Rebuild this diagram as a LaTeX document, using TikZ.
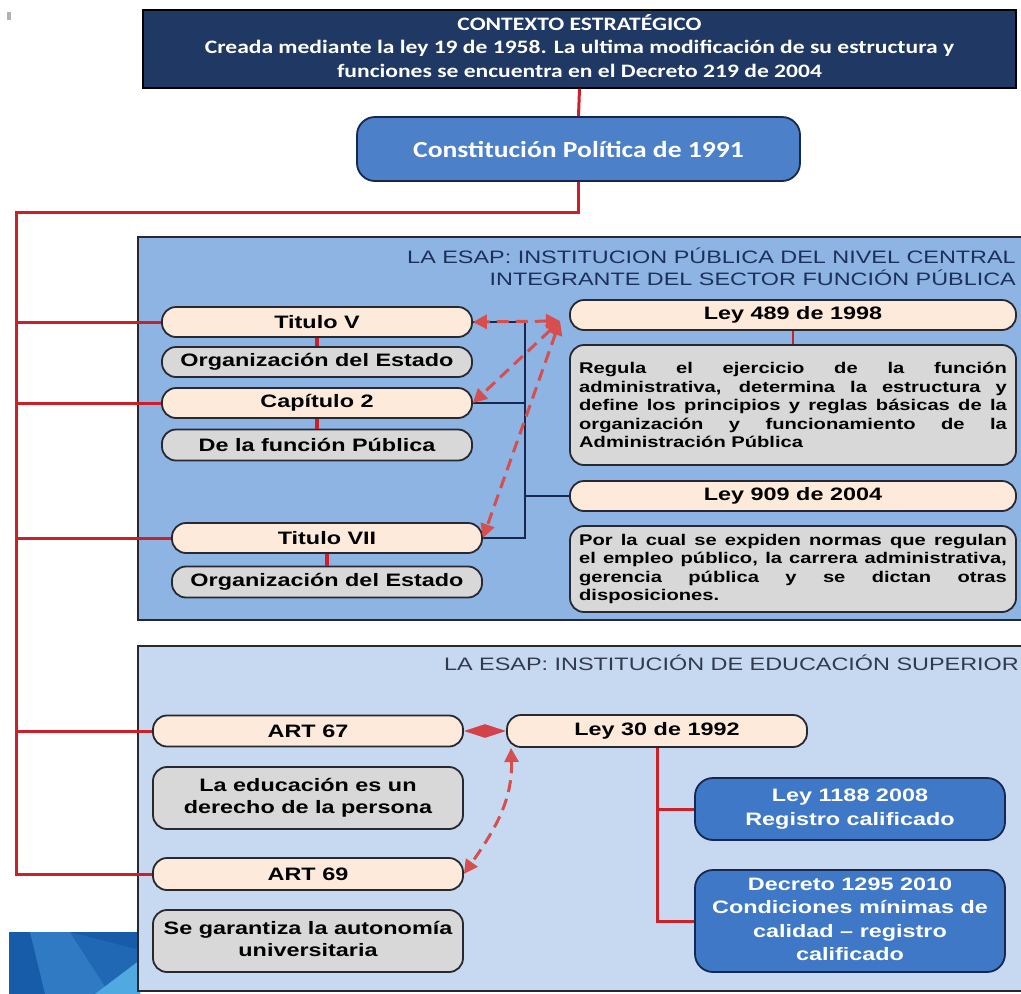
\documentclass[tikz,border=0pt]{standalone}
\usepackage{fontspec}
\usepackage{graphicx}
\setmainfont{Liberation Sans}
\newfontfamily\calfont{Carlito}
\usetikzlibrary{arrows.meta}
\definecolor{topnavy}{RGB}{31,56,100}
\definecolor{constblue}{RGB}{76,128,200}
\definecolor{panelA}{RGB}{142,180,227}
\definecolor{panelB}{RGB}{198,217,241}
\definecolor{creambg}{RGB}{253,234,218}
\definecolor{graybg}{RGB}{216,216,216}
\definecolor{bluebox}{RGB}{62,120,198}
\definecolor{boxline}{RGB}{40,40,48}
\definecolor{navyline}{RGB}{22,40,78}
\definecolor{redline}{RGB}{204,32,40}
\definecolor{reddash}{RGB}{214,78,78}
\definecolor{titlecol}{RGB}{28,48,92}
\definecolor{titlecolB}{RGB}{50,58,78}
\definecolor{decoA}{RGB}{22,92,168}
\definecolor{decoB}{RGB}{48,122,196}
\definecolor{decoC}{RGB}{32,104,180}
\definecolor{decoD}{RGB}{80,170,225}
\newcommand\hs[1]{\scalebox{1.3}[1]{#1}}
\newcommand\paratxt{\fontsize{15.5}{18.6}\selectfont\bfseries\hyphenpenalty=10000 }
\tikzset{
  capsule/.style={draw=boxline, line width=1.8pt, rounded corners=14pt, inner sep=0pt,
    font=\fontsize{18}{22}\selectfont\bfseries, text=black},
  creambox/.style={capsule, fill=creambg, minimum height=30pt},
  graybox/.style={capsule, fill=graybg, minimum height=30pt},
  parabox/.style={draw=boxline, line width=1.8pt, rounded corners=14pt, fill=graybg, inner sep=0pt},
  bluebx/.style={draw=navyline, line width=1.8pt, rounded corners=18pt, fill=bluebox, inner sep=0pt,
    text=white, font=\fontsize{18}{23.5}\selectfont\bfseries},
  panel/.style={draw=boxline, line width=1.6pt},
  redl/.style={draw=redline, line width=3pt},
  redshort/.style={draw=redline, line width=4pt},
  navyl/.style={draw=navyline, line width=1.8pt},
  dasharrow/.style={draw=reddash, line width=3pt, dash pattern=on 12pt off 7pt,
    {Triangle[length=14pt,width=14pt]}-{Triangle[length=14pt,width=14pt]}}
}
\begin{document}
\begin{tikzpicture}[x=1pt,y=-1pt]
\useasboundingbox (0,0) rectangle (1021,994);
\fill[white] (0,0) rectangle (1021,994);
% small artifact mark top-left
\fill[black!30] (7,12) rectangle (11,20);
% decorative corner bottom-left
\fill[decoA] (9,932) rectangle (140,994);
\fill[decoB] (30,932) -- (70,932) -- (110,994) -- (45,994) -- cycle;
\fill[decoC] (70,932) -- (140,950) -- (140,994) -- (110,994) -- cycle;
\fill[decoD] (95,994) -- (140,960) -- (140,994) -- cycle;

% panels
\draw[panel, fill=panelA] (138,237) rectangle (1030,620);
\draw[panel, fill=panelB] (138,646) rectangle (1030,991);

% top box
\node[draw=black, line width=1.2pt, fill=topnavy, minimum width=873pt, minimum height=78pt,
  inner sep=0pt, text=white, font=\calfont\bfseries\fontsize{19}{23.5}\selectfont] (ctx) at (579.5,49)
  {\scalebox{1.24}[1]{\begin{tabular}{@{}c@{}}CONTEXTO ESTRATÉGICO\\
   Creada mediante la ley 19 de 1958. La ultima modificación de su estructura y\\
   funciones se encuentra en el Decreto 219 de 2004\end{tabular}}};
\node[draw=navyline, line width=1.8pt, fill=constblue, rounded corners=18pt, minimum width=443pt,
  minimum height=64pt, inner sep=0pt, text=white] (cp) at (578.5,149)
  {\calfont\bfseries\fontsize{23}{27}\selectfont\scalebox{1.2}[1]{Constitución Política de 1991}};

% panel titles
\node[anchor=east, inner sep=0pt, text=titlecol, font=\fontsize{18}{20}\selectfont] (tA1) at (1016,256)
  {\hs{LA ESAP: INSTITUCION PÚBLICA DEL NIVEL CENTRAL}};
\node[anchor=east, inner sep=0pt, text=titlecol, font=\fontsize{18}{20}\selectfont] (tA2) at (1016,278)
  {\hs{INTEGRANTE DEL SECTOR FUNCIÓN PÚBLICA}};
\node[anchor=east, inner sep=0pt, text=titlecolB, font=\fontsize{18}{20}\selectfont] (tB) at (1019,663)
  {\hs{LA ESAP: INSTITUCIÓN DE EDUCACIÓN SUPERIOR}};

% panel A nodes
\node[creambox, minimum width=310pt] (tV) at (317,322) {\hs{Titulo V}};
\node[graybox, minimum width=310pt] (org1) at (317,362) {\hs{Organización del Estado}};
\node[creambox, minimum width=310pt] (cap2) at (317,403) {\hs{Capítulo 2}};
\node[graybox, minimum width=310pt, minimum height=31pt] (func) at (317,445) {\hs{De la función Pública}};
\node[creambox, minimum width=310pt] (tVII) at (327,538) {\hs{Titulo VII}};
\node[graybox, minimum width=310pt, minimum height=31pt] (org2) at (327,582) {\hs{Organización del Estado}};

\node[creambox, minimum width=446pt] (l489) at (793,315) {\hs{Ley 489 de 1998}};
\node[parabox, minimum width=446pt, minimum height=120pt] (p489) at (793,405)
  {\hs{\parbox{329pt}{\paratxt
  Regula el ejercicio de la función\linebreak
  administrativa, determina la estructura y\linebreak
  define los principios y reglas básicas de la\linebreak
  organización y funcionamiento de la\linebreak
  Administración Pública}}};
\node[creambox, minimum width=446pt] (l909) at (793,496) {\hs{Ley 909 de 2004}};
\node[parabox, minimum width=446pt, minimum height=86pt] (p909) at (793,569)
  {\hs{\parbox{329pt}{\paratxt
  Por la cual se expiden normas que regulan\linebreak
  el empleo público, la carrera administrativa,\linebreak
  gerencia pública y se dictan otras\linebreak
  disposiciones.}}};

% panel B nodes
\node[creambox, minimum width=310pt, minimum height=31pt] (art67) at (308,731) {\hs{ART 67}};
\node[graybox, minimum width=310pt, minimum height=62pt] (edu) at (308,798)
  {\hs{\begin{tabular}{@{}c@{}}La educación es un\\derecho de la persona\end{tabular}}};
\node[creambox, minimum width=310pt, minimum height=32pt] (art69) at (308,874) {\hs{ART 69}};
\node[graybox, minimum width=310pt, minimum height=62pt] (aut) at (308,941)
  {\hs{\begin{tabular}{@{}c@{}}Se garantiza la autonomía\\universitaria\end{tabular}}};
\node[creambox, minimum width=300pt, minimum height=32pt] (l30) at (657,731) {\hs{Ley 30 de 1992}};
\node[bluebx, minimum width=310pt, minimum height=62pt] (l1188) at (850,809)
  {\hs{\begin{tabular}{@{}c@{}}Ley 1188 2008\\Registro calificado\end{tabular}}};
\node[bluebx, minimum width=310pt, minimum height=102pt] (dec) at (850,921)
  {\hs{\begin{tabular}{@{}c@{}}Decreto 1295 2010\\Condiciones mínimas de\\calidad – registro\\calificado\end{tabular}}};

% red main connectors
\coordinate (jA) at (578.5,212);
\coordinate (jB) at (16,212);
\coordinate (jEnd) at (16,874);
\draw[redl] (ctx.south) -- (cp.north);
\draw[redl, line join=miter] (cp.south) -- (jA) -- (jB) -- (jEnd) -- (art69.west);
\draw[redl] (tV.west -| jB) -- (tV.west);
\draw[redl] (cap2.west -| jB) -- (cap2.west);
\draw[redl] (tVII.west -| jB) -- (tVII.west);
\draw[redl] (art67.west -| jB) -- (art67.west);

% short red links
\draw[redshort] (tV.south) -- (org1.north);
\draw[redshort] (cap2.south) -- (func.north);
\draw[redshort] (tVII.south) -- (org2.north);
\draw[draw=redline, line width=2.2pt] (l489.south) -- (p489.north);

% navy bracket
\coordinate (nv) at (525,322);
\draw[navyl] (tV.east) -- (nv) -- (nv |- tVII.east) -- (tVII.east);
\draw[navyl] (cap2.east) -- (nv |- cap2.east);
\draw[navyl] (nv |- l909.west) -- (l909.west);

% dashed red arrows panel A
\coordinate (hub) at (560,321);
\draw[dasharrow] (hub) -- (tV.east);
\draw[dasharrow] (hub) -- (cap2.east);
\draw[dasharrow] (hub) -- (tVII.east);

% panel B arrows
\draw[draw=redline!85!white, line width=2pt,
  {Triangle[length=21pt,width=13pt]}-{Triangle[length=21pt,width=13pt]}] (art67.east) -- (l30.west);
\coordinate (l30c) at (511,748);
\draw[dasharrow] (l30c) to[out=-88,in=55] (art69.east);

% Ley 30 tree
\draw[redl, line join=miter] (l30.south) |- (l1188.west);
\draw[redl] (l30.south) |- (dec.west);
\end{tikzpicture}
\end{document}
